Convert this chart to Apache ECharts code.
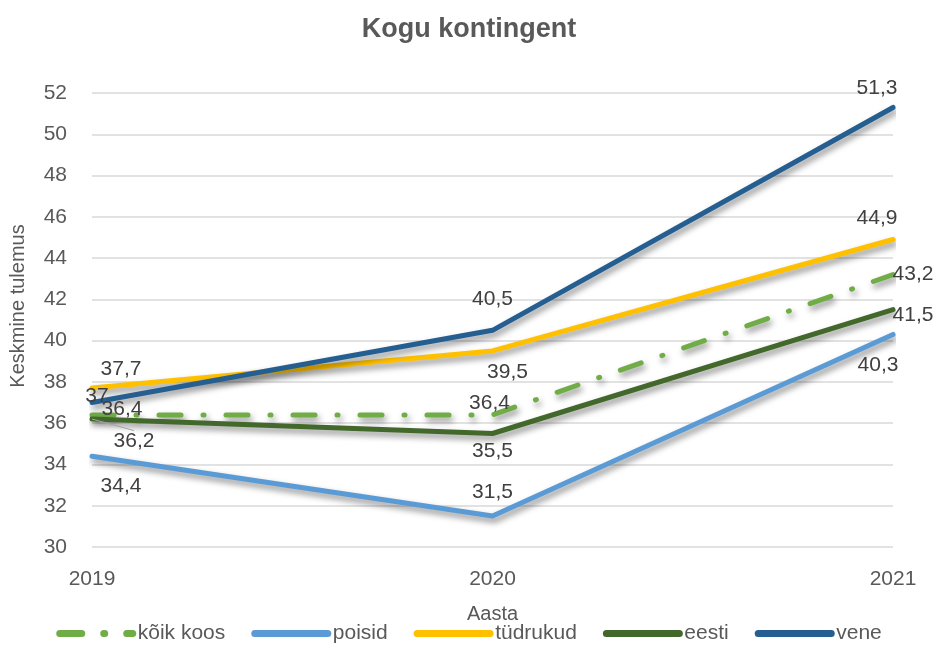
<!DOCTYPE html>
<html>
<head>
<meta charset="utf-8">
<script src="https://cdn.jsdelivr.net/npm/echarts@6/dist/echarts.min.js"></script>
<style>
  html, body { margin: 0; padding: 0; background: #fff; }
  #chart { width: 938px; height: 647px; }
</style>
</head>
<body>
<div id="chart"></div>
<script>
  const years = ['2019', '2020', '2021'];
  const yTicks = { min: 30, max: 52, interval: 2 };

  const koikKoos = [36.4, 36.4, 43.2];
  const poisid = [34.4, 31.5, 40.3];
  const tudrukud = [37.7, 39.5, 44.9];
  const eesti = [36.2, 35.5, 41.5];
  const vene = [37, 40.5, 51.3];

  // label nudges [dx, dy] per point, in pixels
  const nudges = {
    'kõik koos': [[30, -6], [-3, -12], [20, 0]],
    poisid: [[29, 30], [0, -24], [-15, 31]],
    'tüdrukud': [[29, -19], [15, 21], [-16, -21]],
    eesti: [[42, 22], [0, 18], [20, 6]],
    vene: [[5, -6], [0, -31], [-16, -19]],
  };

  const font = '"Liberation Sans", Arial, sans-serif';
  const shadow = {
    shadowColor: 'rgba(0,0,0,0.45)',
    shadowBlur: 6,
    shadowOffsetX: 2,
    shadowOffsetY: 4,
  };

  function makeSeries(name, values, color, dash) {
    const nudge = nudges[name];
    return {
      name,
      type: 'line',
      data: values.map((v, i) => ({
        value: v,
        labelLine: { show: name === 'eesti' && i === 0 },
      })),
      symbol: 'circle',
      symbolSize: 0,
      itemStyle: { color },
      lineStyle: Object.assign({
        color,
        width: 5,
        type: dash || 'solid',
        cap: 'round',
        join: 'round',
      }, shadow),
      label: {
        show: true,
        position: 'inside',
        color: '#404040',
        fontSize: 21,
        fontFamily: font,
        formatter: (p) => String(p.value).replace('.', ','),
      },
      labelLine: {
        show: false,
        lineStyle: { color: '#a6a6a6', width: 1 },
      },
      labelLayout: (p) => ({ dx: nudge[p.dataIndex][0], dy: nudge[p.dataIndex][1] }),
      emphasis: { disabled: true },
      animation: false,
    };
  }

  const chart = echarts.init(document.getElementById('chart'));
  const option = {
    backgroundColor: '#fff',
    title: {
      text: 'Kogu kontingent',
      left: 'center',
      top: 11,
      textStyle: { color: '#595959', fontSize: 27, fontWeight: 'bold', fontFamily: font },
    },
    grid: { left: 88, right: 45, top: 93, bottom: 100 },
    legend: {
      bottom: -2,
      left: 'center',
      itemWidth: 73,
      itemHeight: 10,
      itemGap: 26,
      itemStyle: { opacity: 0 },
      lineStyle: { width: 7, cap: 'round', shadowBlur: 0, shadowOffsetX: 0, shadowOffsetY: 0 },
      textStyle: { color: '#595959', fontSize: 21, fontFamily: font },
      data: ['kõik koos', 'poisid', 'tüdrukud', 'eesti', 'vene'],
    },
    xAxis: {
      type: 'category',
      data: years,
      boundaryGap: false,
      name: 'Aasta',
      nameLocation: 'middle',
      nameGap: 57,
      nameTextStyle: { color: '#595959', fontSize: 20, fontFamily: font },
      axisLine: { show: false },
      axisTick: { show: false },
      axisLabel: { color: '#595959', fontSize: 21, fontFamily: font, margin: 22 },
      splitLine: { show: false },
    },
    yAxis: {
      type: 'value',
      min: yTicks.min,
      max: yTicks.max,
      interval: yTicks.interval,
      name: 'Keskmine tulemus',
      nameLocation: 'middle',
      nameGap: 64,
      nameTextStyle: { color: '#595959', fontSize: 20, fontFamily: font, padding: [0, 0, 0, 28] },
      axisLine: { show: false },
      axisTick: { show: false },
      axisLabel: { color: '#595959', fontSize: 21, fontFamily: font, margin: 25 },
      splitLine: { lineStyle: { color: '#d9d9d9', width: 1.5 } },
    },
    series: [
      makeSeries('kõik koos', koikKoos, '#70AD47', [22, 22, 1, 22]),
      makeSeries('poisid', poisid, '#5B9BD5'),
      makeSeries('tüdrukud', tudrukud, '#FFC000'),
      makeSeries('eesti', eesti, '#43682B'),
      makeSeries('vene', vene, '#255E91'),
    ],
  };
  option && chart.setOption(option);
</script>
</body>
</html>
